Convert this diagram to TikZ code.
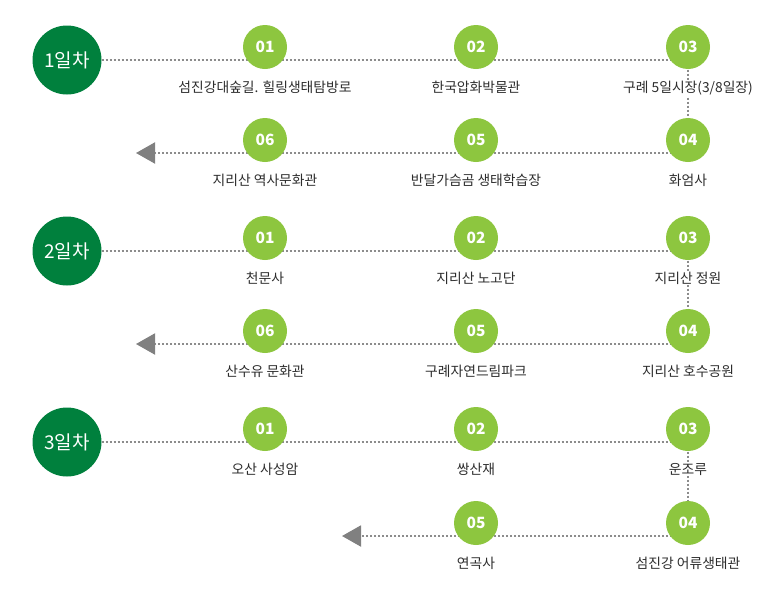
\documentclass[tikz,border=0pt]{standalone}
\usepackage{fontspec}
\setmainfont{Noto Sans CJK KR}
\usetikzlibrary{arrows.meta, positioning, backgrounds}
\definecolor{daygreen}{RGB}{0,128,61}
\definecolor{stopgreen}{RGB}{141,198,63}
\definecolor{linegray}{RGB}{140,140,140}
\definecolor{tipgray}{RGB}{128,128,128}
\definecolor{textgray}{RGB}{45,45,45}

\begin{document}
\begin{tikzpicture}[
    x=1pt, y=-1pt,
    node distance=10.5pt,
    day/.style={circle, fill=daygreen, minimum size=69pt, inner sep=0pt, text=white, font=\fontsize{19}{19}\selectfont},
    stop/.style={circle, fill=stopgreen, minimum size=44pt, inner sep=0pt, text=white, font=\fontsize{15.5}{15.5}\selectfont\bfseries},
    place/.style={fill=white, inner sep=1pt, text=textgray, font=\fontsize{13.8}{15}\selectfont},
    route/.style={linegray, line width=2pt, dash pattern=on 2pt off 2pt},
    back/.style={route, -{Triangle[length=19pt, width=21pt, color=tipgray]}}
]
\useasboundingbox (0,0) rectangle (760,600);

% Day 1
\node[day] (d1) at (67,60) {1일차};
\node[stop] (d1s1) at (265,47) {01};
\node[stop] (d1s2) at (476,47) {02};
\node[stop] (d1s3) at (688,47) {03};
\node[stop] (d1s4) at (688,140) {04};
\node[stop] (d1s5) at (476,140) {05};
\node[stop] (d1s6) at (265,140) {06};
\node[place, below=of d1s1] (d1p1) {섬진강대숲길. 힐링생태탐방로};
\node[place, below=of d1s2] (d1p2) {한국압화박물관};
\node[place, below=of d1s3] (d1p3) {구례 5일시장(3/8일장)};
\node[place, below=of d1s4] (d1p4) {화엄사};
\node[place, below=of d1s5] (d1p5) {반달가슴곰 생태학습장};
\node[place, below=of d1s6] (d1p6) {지리산 역사문화관};
\coordinate (d1end) at (136,153);

% Day 2
\node[day] (d2) at (67,251) {2일차};
\node[stop] (d2s1) at (265,238) {01};
\node[stop] (d2s2) at (476,238) {02};
\node[stop] (d2s3) at (688,238) {03};
\node[stop] (d2s4) at (688,331) {04};
\node[stop] (d2s5) at (476,331) {05};
\node[stop] (d2s6) at (265,331) {06};
\node[place, below=of d2s1] (d2p1) {천문사};
\node[place, below=of d2s2] (d2p2) {지리산 노고단};
\node[place, below=of d2s3] (d2p3) {지리산 정원};
\node[place, below=of d2s4] (d2p4) {지리산 호수공원};
\node[place, below=of d2s5] (d2p5) {구례자연드림파크};
\node[place, below=of d2s6] (d2p6) {산수유 문화관};
\coordinate (d2end) at (136,344);

% Day 3
\node[day] (d3) at (67,442) {3일차};
\node[stop] (d3s1) at (265,429) {01};
\node[stop] (d3s2) at (476,429) {02};
\node[stop] (d3s3) at (688,429) {03};
\node[stop] (d3s4) at (688,523) {04};
\node[stop] (d3s5) at (476,523) {05};
\node[place, below=of d3s1] (d3p1) {오산 사성암};
\node[place, below=of d3s2] (d3p2) {쌍산재};
\node[place, below=of d3s3] (d3p3) {운조루};
\node[place, below=of d3s4] (d3p4) {섬진강 어류생태관};
\node[place, below=of d3s5] (d3p5) {연곡사};
\coordinate (d3end) at (342,536);

% Routes
\begin{scope}[on background layer]
\draw[route] (d1.east) -| (d1s4);
\draw[back] (d1s4 |- d1end) -- (d1end);
\draw[route] (d2.east) -| (d2s4);
\draw[back] (d2s4 |- d2end) -- (d2end);
\draw[route] (d3.east) -| (d3s4);
\draw[back] (d3s4 |- d3end) -- (d3end);
\end{scope}
\end{tikzpicture}
\end{document}
